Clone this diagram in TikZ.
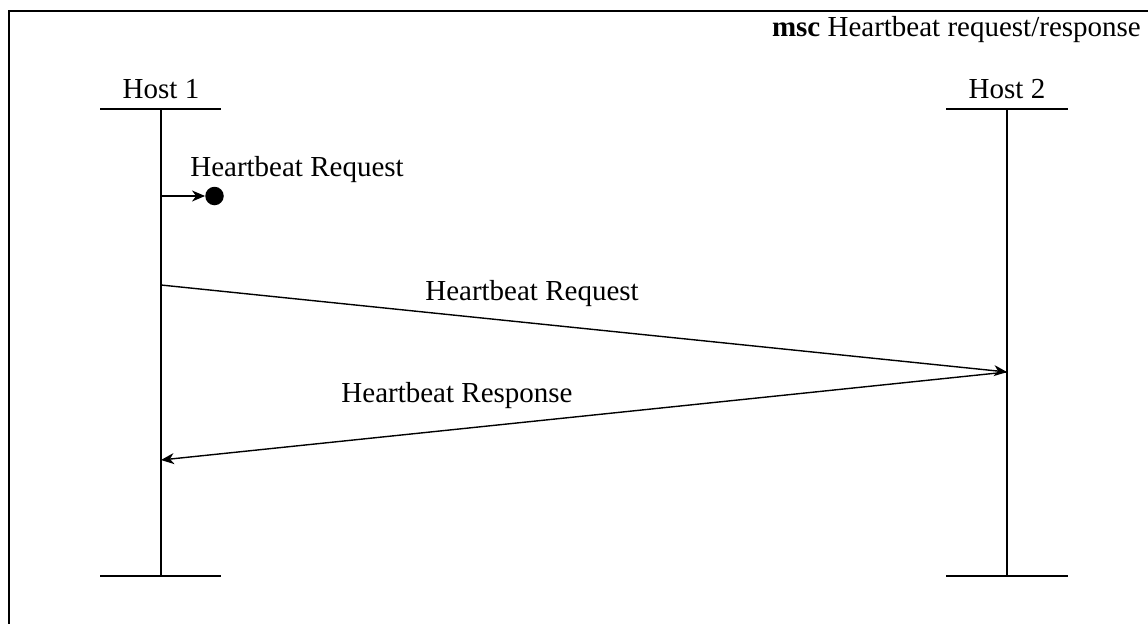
\documentclass[tikz,border=0pt]{standalone}
\usepackage{fontspec}
\setmainfont{Liberation Serif}
\usetikzlibrary{arrows.meta}
\begin{document}
\begin{tikzpicture}[x=1pt,y=-1pt,
  frameline/.style={line width=2pt},
  lifeline/.style={line width=2pt},
  headline/.style={line width=2.4pt},
  msgline/.style={line width=1.4pt,-{Stealth[length=13pt,width=11pt,inset=4pt]}},
  lbl/.style={font=\fontsize{29}{34}\selectfont,inner sep=0pt,anchor=base}]
\useasboundingbox[fill=white] (0,0) rectangle (1148,624);
% enclosing frame, open to the right and below
\draw[frameline] (1148,11) -- (9,11) -- (9,624);
\node[lbl,anchor=base east] (title) at (1141,36) {\textbf{msc} Heartbeat request/response};
% instance heads
\node[lbl] (h1) at (161,98) {Host 1};
\node[lbl] (h2) at (1007,98) {Host 2};
\coordinate (h1top) at (161,109);
\coordinate (h1bot) at (161,576);
\coordinate (h2top) at (1007,109);
\coordinate (h2bot) at (1007,576);
\draw[headline] (100,109) -- (221,109);
\draw[headline] (946,109) -- (1068,109);
\draw[headline] (100,576) -- (221,576);
\draw[headline] (946,576) -- (1068,576);
\draw[lifeline] (h1top) -- (h1bot);
\draw[lifeline] (h2top) -- (h2bot);
% local event: message to a lost point
\coordinate (s0) at (161,196);
\node[circle,fill=black,inner sep=0pt,minimum size=18.5pt] (dot) at (214.5,196) {};
\draw[msgline] (s0) -- (dot.west);
\node[lbl] (l0) at (297,176) {Heartbeat Request};
% messages between instances
\coordinate (m1a) at (161,285);
\coordinate (m1b) at (1007,372);
\coordinate (m2b) at (161,460);
\draw[msgline] (m1a) -- (m1b);
\node[lbl] (l1) at (532,300) {Heartbeat Request};
\draw[msgline] (m1b) -- (m2b);
\node[lbl] (l2) at (457,402) {Heartbeat Response};
\end{tikzpicture}
\end{document}
